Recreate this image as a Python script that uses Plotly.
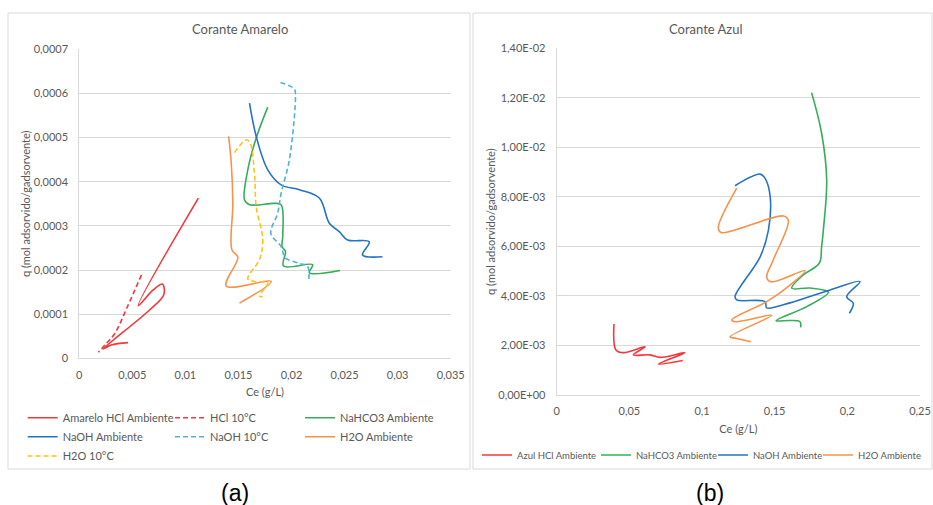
import plotly.graph_objects as go

W, H = 933, 505

# ---------------- (a) Corante Amarelo ----------------
am_hcl_amb_x = [0.01122, 0.00555, 0.00696, 0.00784, 0.00796, 0.00665, 0.00226, 0.00300, 0.00460]
am_hcl_amb_y = [0.000363, 0.000119, 0.000155, 0.000168, 0.000144, 0.000110, 0.0000210, 0.0000300, 0.0000354]

am_hcl_10_x = [0.00586, 0.00450, 0.00336, 0.00260, 0.00180]
am_hcl_10_y = [0.000189, 0.000115, 0.0000567, 0.0000350, 0.0000136]

am_nahco3_amb_x = [0.01776, 0.01667, 0.01588, 0.01557, 0.01604, 0.01839, 0.01902, 0.01917, 0.01911,
                   0.01943, 0.01924, 0.02199, 0.02168, 0.02457]
am_nahco3_amb_y = [0.000569, 0.000499, 0.000427, 0.000359, 0.000348, 0.000351, 0.000348, 0.000276, 0.000253,
                   0.000242, 0.000209, 0.000212, 0.000194, 0.000199]

am_naoh_amb_x = [0.01604, 0.01667, 0.01776, 0.01902, 0.02074, 0.02262, 0.02356, 0.02450, 0.02528,
                 0.02732, 0.02669, 0.02857]
am_naoh_amb_y = [0.000578, 0.000503, 0.000427, 0.000393, 0.000382, 0.000363, 0.000306, 0.000287, 0.000268,
                 0.000264, 0.000234, 0.000230]

am_naoh_10_x = [0.01896, 0.02027, 0.02037, 0.01980, 0.01902, 0.01870, 0.01805, 0.01902, 0.01940,
                0.02074, 0.02152, 0.02162]
am_naoh_10_y = [0.000625, 0.000610, 0.000597, 0.000450, 0.000374, 0.000329, 0.000283, 0.000253, 0.000228,
                0.000215, 0.000208, 0.000176]

am_h2o_amb_x = [0.01407, 0.01432, 0.01447, 0.01438, 0.01494, 0.01385, 0.01808, 0.01510]
am_h2o_amb_y = [0.000503, 0.000442, 0.000351, 0.000246, 0.000229, 0.000164, 0.000174, 0.000125]

am_h2o_10_x = [0.01463, 0.01573, 0.01610, 0.01650, 0.01667, 0.01729, 0.01700, 0.01588, 0.01651,
               0.01776, 0.01698, 0.01729]
am_h2o_10_y = [0.000466, 0.000495, 0.000488, 0.000420, 0.000344, 0.000268, 0.000225, 0.000180, 0.000174,
               0.000171, 0.000141, 0.000140]

a_xticks = [0, 0.005, 0.01, 0.015, 0.02, 0.025, 0.03, 0.035]
a_xtext = ["0", "0,005", "0,01", "0,015", "0,02", "0,025", "0,03", "0,035"]
a_yticks = [0, 0.0001, 0.0002, 0.0003, 0.0004, 0.0005, 0.0006, 0.0007]
a_ytext = ["0", "0,0001", "0,0002", "0,0003", "0,0004", "0,0005", "0,0006", "0,0007"]

# ---------------- (b) Corante Azul ----------------
az_hcl_amb_x = [0.0394, 0.0408, 0.0459, 0.0608, 0.0527, 0.0642, 0.0711, 0.0883, 0.0699, 0.0867]
az_hcl_amb_y = [0.00287, 0.00182, 0.00171, 0.00195, 0.00162, 0.00162, 0.00152, 0.00171, 0.00125, 0.00139]

az_nahco3_amb_x = [0.1754, 0.1823, 0.1858, 0.1835, 0.1823, 0.1807, 0.1697, 0.1617, 0.1743, 0.1869,
                   0.1721, 0.1510, 0.1606, 0.1674, 0.1679]
az_nahco3_amb_y = [0.01221, 0.01057, 0.00868, 0.00666, 0.00599, 0.00532, 0.00485, 0.00431, 0.00432, 0.00415,
                   0.00357, 0.00300, 0.00301, 0.00296, 0.00273]

az_naoh_amb_x = [0.1227, 0.1400, 0.1434, 0.1469, 0.1457, 0.1400, 0.1227, 0.1239, 0.1434, 0.1445,
                 0.1606, 0.1881, 0.2087, 0.1996, 0.2041, 0.2014]
az_naoh_amb_y = [0.00845, 0.00892, 0.00875, 0.00801, 0.00666, 0.00558, 0.00397, 0.00384, 0.00377, 0.00352,
                 0.00372, 0.00424, 0.00458, 0.00397, 0.00370, 0.00330]

az_h2o_amb_x = [0.1239, 0.1112, 0.1130, 0.1560, 0.1594, 0.1490, 0.1445, 0.1475, 0.1709, 0.1606,
                0.1445, 0.1204, 0.1230, 0.1480, 0.1193, 0.1230, 0.1335]
az_h2o_amb_y = [0.00835, 0.00675, 0.00656, 0.00723, 0.00705, 0.00545, 0.00475, 0.00457, 0.00502, 0.00444,
                0.00377, 0.00303, 0.00296, 0.00322, 0.00235, 0.00229, 0.00215]

b_xticks = [0, 0.05, 0.1, 0.15, 0.2, 0.25]
b_xtext = ["0", "0,05", "0,1", "0,15", "0,2", "0,25"]
b_yticks = [0, 0.002, 0.004, 0.006, 0.008, 0.010, 0.012, 0.014]
b_ytext = ["0,00E+00", "2,00E-03", "4,00E-03", "6,00E-03", "8,00E-03", "1,00E-02", "1,20E-02", "1,40E-02"]

# ---------------- styling ----------------
RED, GREEN, BLUE, CYAN, ORANGE, YELLOW = "#f5373b", "#35ad5a", "#2473c4", "#4fb3d4", "#f7924a", "#ffc21a"
GREY_TXT = "#595959"
GRID = "#d9d9d9"
FONT = "Lato"

fig = go.Figure()


def add(x, y, name, color, dash, xa, ya, legend):
    fig.add_trace(go.Scatter(
        x=x, y=y, name=name, mode="lines", xaxis=xa, yaxis=ya, legend=legend,
        line=dict(color=color, width=1.6, dash=dash, shape="spline", smoothing=1.0),
        hoverinfo="skip", showlegend=True))


DASH = "5px,3px"
add(am_hcl_amb_x, am_hcl_amb_y, "Amarelo HCl Ambiente", RED, "solid", "x", "y", "legend")
add(am_hcl_10_x, am_hcl_10_y, "HCl 10°C", RED, DASH, "x", "y", "legend2")
add(am_nahco3_amb_x, am_nahco3_amb_y, "NaHCO3 Ambiente", GREEN, "solid", "x", "y", "legend3")
add(am_naoh_amb_x, am_naoh_amb_y, "NaOH Ambiente", BLUE, "solid", "x", "y", "legend4")
add(am_naoh_10_x, am_naoh_10_y, "NaOH 10°C", CYAN, DASH, "x", "y", "legend5")
add(am_h2o_amb_x, am_h2o_amb_y, "H2O Ambiente", ORANGE, "solid", "x", "y", "legend6")
add(am_h2o_10_x, am_h2o_10_y, "H2O 10°C", YELLOW, DASH, "x", "y", "legend7")

add(az_hcl_amb_x, az_hcl_amb_y, "Azul HCl Ambiente", RED, "solid", "x2", "y2", "legend8")
add(az_nahco3_amb_x, az_nahco3_amb_y, "NaHCO3 Ambiente", GREEN, "solid", "x2", "y2", "legend9")
add(az_naoh_amb_x, az_naoh_amb_y, "NaOH Ambiente", BLUE, "solid", "x2", "y2", "legend10")
add(az_h2o_amb_x, az_h2o_amb_y, "H2O Ambiente", ORANGE, "solid", "x2", "y2", "legend11")


def leg(text_x_px, y_px, size=11):
    return dict(x=(text_x_px - 40) / W, y=1 - y_px / H, xanchor="left", yanchor="middle",
                orientation="h", bgcolor="rgba(0,0,0,0)", borderwidth=0,
                font=dict(family=FONT, size=size, color=GREY_TXT))


tickfont = dict(family=FONT, size=11, color=GREY_TXT)
titlefont = dict(family=FONT, size=11, color=GREY_TXT)

fig.update_layout(
    width=W, height=H, autosize=False,
    margin=dict(l=0, r=0, t=0, b=0, autoexpand=False),
    paper_bgcolor="white", plot_bgcolor="white",
    font=dict(family=FONT, color=GREY_TXT),
    xaxis=dict(domain=[79.3 / W, 450.7 / W], anchor="y", range=[0, 0.035], automargin=False,
               tickvals=a_xticks, ticktext=a_xtext, showgrid=False, zeroline=False,
               showline=True, linecolor=GRID, linewidth=1, ticks="", ticklabelstandoff=6,
               tickfont=tickfont, title=dict(text="Ce (g/L)", font=titlefont, standoff=8)),
    yaxis=dict(domain=[1 - 358.3 / H, 1 - 49.3 / H], anchor="x", range=[0, 0.0007], automargin=False,
               tickvals=a_yticks, ticktext=a_ytext, showgrid=True, gridcolor=GRID, zeroline=False,
               showline=True, linecolor=GRID, linewidth=1, ticks="", ticklabelstandoff=8,
               tickfont=tickfont, title=dict(text="q (mol adsorvido/gadsorvente)", font=titlefont, standoff=0)),
    xaxis2=dict(domain=[556.7 / W, 920 / W], anchor="y2", range=[0, 0.25], automargin=False,
                tickvals=b_xticks, ticktext=b_xtext, showgrid=False, zeroline=False,
                showline=True, linecolor=GRID, linewidth=1, ticks="", ticklabelstandoff=6,
                tickfont=tickfont, title=dict(text="Ce (g/L)", font=titlefont, standoff=9)),
    yaxis2=dict(domain=[1 - 395 / H, 1 - 48.3 / H], anchor="x2", range=[0, 0.014], automargin=False,
                tickvals=b_yticks, ticktext=b_ytext, showgrid=True, gridcolor=GRID, zeroline=False,
                showline=True, linecolor=GRID, linewidth=1, ticks="", ticklabelstandoff=8,
                tickfont=tickfont, title=dict(text="q (mol adsorvido/gadsorvente)", font=titlefont, standoff=0)),
    legend=leg(62.7, 417.7), legend2=leg(210, 417.7), legend3=leg(340, 417.7),
    legend4=leg(62.7, 436.7), legend5=leg(210, 436.7), legend6=leg(340, 436.7),
    legend7=leg(62.7, 456),
    legend8=leg(517, 455, 9.5), legend9=leg(636, 455, 9.5), legend10=leg(753, 455, 9.5),
    legend11=leg(858, 455, 9.5),
    shapes=[
        dict(type="rect", xref="paper", yref="paper", x0=8 / W, x1=470 / W, y0=1 - 469 / H, y1=1 - 13 / H,
             line=dict(color=GRID, width=1), fillcolor="rgba(0,0,0,0)", layer="below"),
        dict(type="rect", xref="paper", yref="paper", x0=473 / W, x1=932 / W, y0=1 - 469 / H, y1=1 - 13 / H,
             line=dict(color=GRID, width=1), fillcolor="rgba(0,0,0,0)", layer="below"),
    ],
    annotations=[
        dict(text="Corante Amarelo", x=240 / W, y=1 - 28.5 / H, xref="paper", yref="paper",
             showarrow=False, xanchor="center", yanchor="middle",
             font=dict(family=FONT, size=13, color=GREY_TXT)),
        dict(text="Corante Azul", x=706 / W, y=1 - 28.5 / H, xref="paper", yref="paper",
             showarrow=False, xanchor="center", yanchor="middle",
             font=dict(family=FONT, size=13, color=GREY_TXT)),
        dict(text="(a)", x=235 / W, y=1 - 492.5 / H, xref="paper", yref="paper",
             showarrow=False, xanchor="center", yanchor="middle",
             font=dict(family="Liberation Sans", size=23, color="black")),
        dict(text="(b)", x=710 / W, y=1 - 492.5 / H, xref="paper", yref="paper",
             showarrow=False, xanchor="center", yanchor="middle",
             font=dict(family="Liberation Sans", size=23, color="black")),
    ],
)

fig.write_html("out.html")
